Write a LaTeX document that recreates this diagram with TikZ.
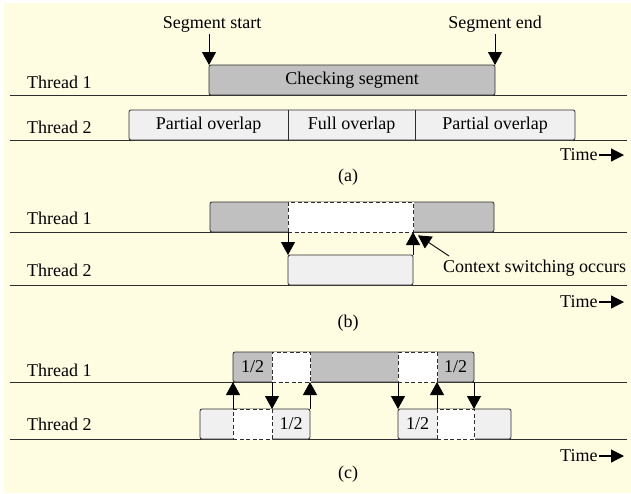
\documentclass[tikz,border=0pt]{standalone}
\usepackage{fontspec}
\setmainfont{Liberation Serif}
\usetikzlibrary{arrows.meta}
\definecolor{bgy}{RGB}{255,253,225}
\definecolor{dgray}{RGB}{192,192,192}
\definecolor{lgray}{RGB}{240,240,240}
\definecolor{ink}{RGB}{45,45,45}
\begin{document}
\begin{tikzpicture}[x=1pt,y=-1pt,font=\fontsize{18}{21}\selectfont,
  lbl/.style={inner sep=0pt,anchor=west},
  txt/.style={inner sep=0pt},
  baseln/.style={draw=ink,line width=1pt},
  box/.style={draw=ink,line width=0.8pt,rounded corners=2pt,inner sep=0pt,outer sep=0pt,anchor=south west,minimum height=30pt},
  wseg/.style={preaction={draw=white,solid,fill=white,line width=0.8pt},draw=ink,line width=0.8pt,dash pattern=on 4pt off 2.5pt,inner sep=0pt,outer sep=0pt,anchor=south west,minimum height=30pt},
  arr/.style={draw=black,line width=0.9pt,-{Triangle[width=14pt,length=13pt]}},
  tarr/.style={draw=black,line width=1.2pt,-{Triangle[width=13pt,length=13pt]}}]
\useasboundingbox (0,0) rectangle (631,493);
\fill[bgy] (4,3) rectangle (631,493);

% ---------------- (a)
\draw[baseln] (10,95) -- (627,95);
\draw[baseln] (10,140) -- (627,140);
\node[lbl] (a1) at (27,82) {Thread 1};
\node[lbl] (a2) at (27,127) {Thread 2};
\node[box,fill=dgray,minimum width=286pt] (cs) at (209,95) {Checking segment};
\node[box,fill=lgray,minimum width=446pt] (t2a) at (129,140) {};
\draw[draw=ink,line width=0.8pt] (288,110) -- (288,140) (415,110) -- (415,140);
\node[txt] (po1) at (208.5,125) {Partial overlap};
\node[txt] (fo) at (351.5,125) {Full overlap};
\node[txt] (po2) at (495,125) {Partial overlap};
\node[txt] (ss) at (212,24) {Segment start};
\node[txt] (se) at (495,24) {Segment end};
\draw[arr] (ss.south -| cs.north west) ++(0,2) -- (cs.north west);
\draw[arr] (se.south -| cs.north east) ++(0,2) -- (cs.north east);
\node[lbl] (ta) at (560,155) {Time};
\coordinate (tae) at (624,155);
\draw[tarr] (ta.east) ++(1,0) -- (tae);
\node[txt] (capa) at (348,177) {(a)};

% ---------------- (b)
\draw[baseln] (10,232) -- (627,232);
\draw[baseln] (10,285) -- (627,285);
\node[lbl] (b1) at (27,218) {Thread 1};
\node[lbl] (b2) at (27,270) {Thread 2};
\node[box,fill=dgray,minimum width=284pt] (bt1) at (210,232) {};
\node[wseg,minimum width=125pt] (bw) at (288,232) {};
\node[box,fill=lgray,minimum width=125pt] (bt2) at (288,285) {};
\draw[arr] (bw.south west) -- (bt2.north west);
\draw[arr] (bt2.north east) -- (bw.south east);
\node[lbl] (ctx) at (443,268) {Context switching occurs};
\coordinate (ctxt) at (449,256);
\draw[arr,shorten >=6pt] (ctxt) -- (bw.south east);
\node[lbl] (tb) at (560,302) {Time};
\coordinate (tbe) at (624,302);
\draw[tarr] (tb.east) ++(1,0) -- (tbe);
\node[txt] (capb) at (348,323) {(b)};

% ---------------- (c)
\draw[baseln] (10,382) -- (627,382);
\draw[baseln] (10,439) -- (627,439);
\node[lbl] (c1) at (27,370) {Thread 1};
\node[lbl] (c2) at (27,424) {Thread 2};
\node[box,fill=dgray,minimum width=241pt] (ct1) at (233,382) {};
\node[wseg,minimum width=38pt] (cw1) at (272,382) {};
\node[wseg,minimum width=39pt] (cw2) at (398,382) {};
\node[txt] (h1) at (252.5,367) {1/2};
\node[txt] (h2) at (455.5,367) {1/2};
\node[box,fill=lgray,minimum width=110pt] (cb1) at (200,439) {};
\node[wseg,minimum width=39pt] (cv1) at (233,439) {};
\node[box,fill=lgray,minimum width=113pt] (cb2) at (398,439) {};
\node[wseg,minimum width=37pt] (cv2) at (437,439) {};
\node[txt] (h3) at (291,424) {1/2};
\node[txt] (h4) at (417.5,424) {1/2};
\draw[arr] (cv1.north west) -- (ct1.south west);
\draw[arr] (cw1.south west) -- (cv1.north east);
\draw[arr] (cb1.north east) -- (cw1.south east);
\draw[arr] (cw2.south west) -- (cb2.north west);
\draw[arr] (cv2.north west) -- (cw2.south east);
\draw[arr] (ct1.south east) -- (cv2.north east);
\node[lbl] (tc) at (560,456) {Time};
\coordinate (tce) at (624,456);
\draw[tarr] (tc.east) ++(1,0) -- (tce);
\node[txt] (capc) at (348,474) {(c)};
\end{tikzpicture}
\end{document}
